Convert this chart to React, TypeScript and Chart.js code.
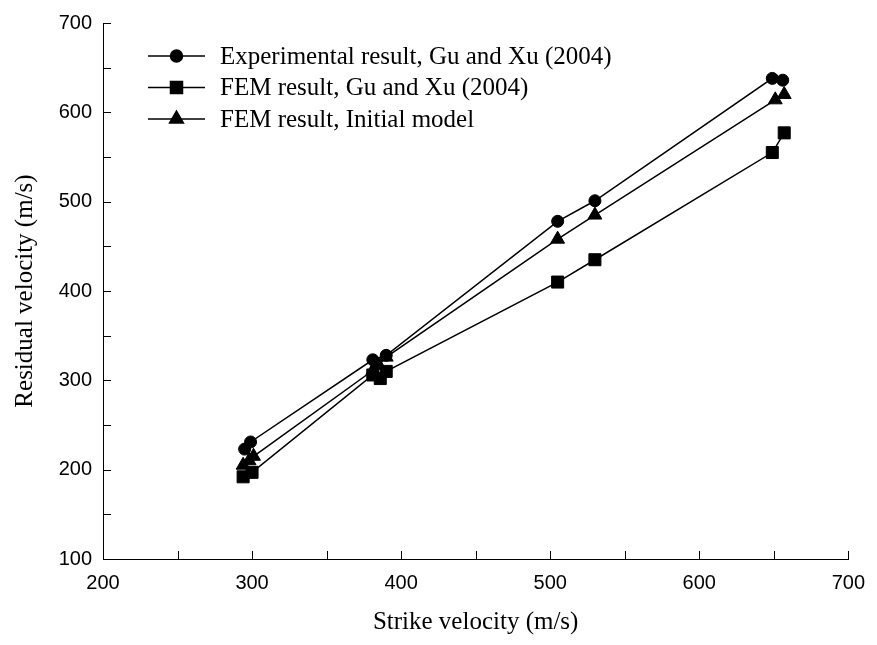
import React, { useEffect, useRef } from 'react';
import { Chart, registerables } from 'chart.js';
import { drawPoint } from 'chart.js/helpers';

Chart.register(...registerables);

// ---- Data ----
const seriesLabels = [
  'Experimental result, Gu and Xu (2004)',
  'FEM result, Gu and Xu (2004)',
  'FEM result, Initial model',
];
const expX = [295, 299, 381, 390, 505, 530, 649, 656];
const expY = [223, 231, 323, 328, 478, 501, 638, 636];
const femX = [294, 300, 381, 386, 390, 505, 530, 649, 657];
const femY = [192, 197, 306, 302, 310, 410, 435, 555, 577];
const initX = [294, 298, 301, 381, 385, 390, 505, 530, 651, 657];
const initY = [205, 210, 215, 311, 317, 326, 458, 485, 614, 620];
const pointStyles = ['circle', 'rect', 'triangle'];
const pointRadii = [6, 8.5, 8];

const xTitle = 'Strike velocity (m/s)';
const yTitle = 'Residual velocity (m/s)';
const xMin = 200, xMax = 700, yMin = 100, yMax = 700, tickStep = 50, labelStep = 100;

const toPts = (xs: number[], ys: number[]) => xs.map((x, i) => ({ x, y: ys[i] }));

const decorPlugin = {
  id: 'decor',
  afterDraw(chart: any) {
    const ctx = chart.ctx;
    const xs = chart.scales.x;
    const ys = chart.scales.y;
    const ca = chart.chartArea;
    const tl = 8;
    ctx.save();
    ctx.strokeStyle = '#000';
    ctx.lineWidth = 1;
    ctx.beginPath();
    xs.ticks.forEach((t: any) => {
      const px = Math.round(xs.getPixelForValue(t.value)) + 0.5;
      ctx.moveTo(px, ca.bottom);
      ctx.lineTo(px, ca.bottom - tl);
    });
    ys.ticks.forEach((t: any) => {
      const py = Math.round(ys.getPixelForValue(t.value)) + 0.5;
      ctx.moveTo(ca.left, py);
      ctx.lineTo(ca.left + tl, py);
    });
    ctx.stroke();

    // legend
    const lx0 = 148, lx1 = 205, ly0 = 56, dy = 31.5, tx = 220;
    chart.data.datasets.forEach((ds: any, i: number) => {
      const y = ly0 + i * dy;
      ctx.strokeStyle = '#000';
      ctx.lineWidth = 1.5;
      ctx.beginPath();
      ctx.moveTo(lx0, y);
      ctx.lineTo(lx1, y);
      ctx.stroke();
      ctx.fillStyle = '#000';
      drawPoint(ctx, { pointStyle: ds.pointStyle, radius: ds.pointRadius, rotation: 0, borderWidth: 1 }, (lx0 + lx1) / 2, y);
      ctx.fillStyle = '#000';
      ctx.font = '25px "Liberation Serif"';
      ctx.textAlign = 'left';
      ctx.textBaseline = 'middle';
      ctx.fillText(ds.label, tx, y + 1);
    });
    ctx.restore();
  },
};

export default function App() {
  const ref = useRef<HTMLCanvasElement | null>(null);
  useEffect(() => {
    if (!ref.current) return;
    const mk = (i: number, data: any[]) => ({
      label: seriesLabels[i],
      data,
      showLine: true,
      borderColor: '#000',
      borderWidth: 1.5,
      backgroundColor: '#000',
      pointBackgroundColor: '#000',
      pointBorderColor: '#000',
      pointBorderWidth: 1,
      pointStyle: pointStyles[i],
      pointRadius: pointRadii[i],
    });
    const chart = new Chart(ref.current, {
      type: 'scatter',
      data: {
        datasets: [
          mk(0, toPts(expX, expY)),
          mk(1, toPts(femX, femY)),
          mk(2, toPts(initX, initY)),
        ],
      },
      options: {
        responsive: false,
        animation: false,
        layout: { padding: { left: 0, right: 20, top: 20, bottom: 0 } },
        plugins: { legend: { display: false }, tooltip: { enabled: false } },
        scales: {
          x: {
            type: 'linear',
            min: xMin,
            max: xMax,
            afterFit: (s: any) => { s.height = 86; },
            ticks: {
              stepSize: tickStep,
              autoSkip: false,
              maxRotation: 0,
              color: '#000',
              padding: 12,
              font: { family: 'Liberation Sans', size: 20 },
              callback: (v: any) => (Number(v) % labelStep === 0 ? String(v) : ''),
            },
            grid: { drawOnChartArea: false, drawTicks: false },
            border: { display: true, color: '#000', width: 1 },
            title: {
              display: true,
              text: xTitle,
              color: '#000',
              font: { family: 'Liberation Serif', size: 25 },
              padding: { top: 0, bottom: 8 },
            },
          },
          y: {
            type: 'linear',
            min: yMin,
            max: yMax,
            afterFit: (s: any) => { s.width = 103; },
            ticks: {
              stepSize: tickStep,
              autoSkip: false,
              color: '#000',
              padding: 11,
              font: { family: 'Liberation Sans', size: 20 },
              callback: (v: any) => (Number(v) % labelStep === 0 ? String(v) : ''),
            },
            grid: { drawOnChartArea: false, drawTicks: false },
            border: { display: true, color: '#000', width: 1 },
            title: {
              display: true,
              text: yTitle,
              color: '#000',
              font: { family: 'Liberation Serif', size: 25 },
              padding: { top: 10, bottom: 0 },
            },
          },
        },
      },
      plugins: [decorPlugin],
    });
    return () => chart.destroy();
  }, []);
  return (
    <div style={{ position: 'absolute', left: 0, top: 0, width: 877, height: 645, background: '#fff' }}>
      <canvas ref={ref} width={877} height={645} style={{ display: 'block' }} />
    </div>
  );
}
